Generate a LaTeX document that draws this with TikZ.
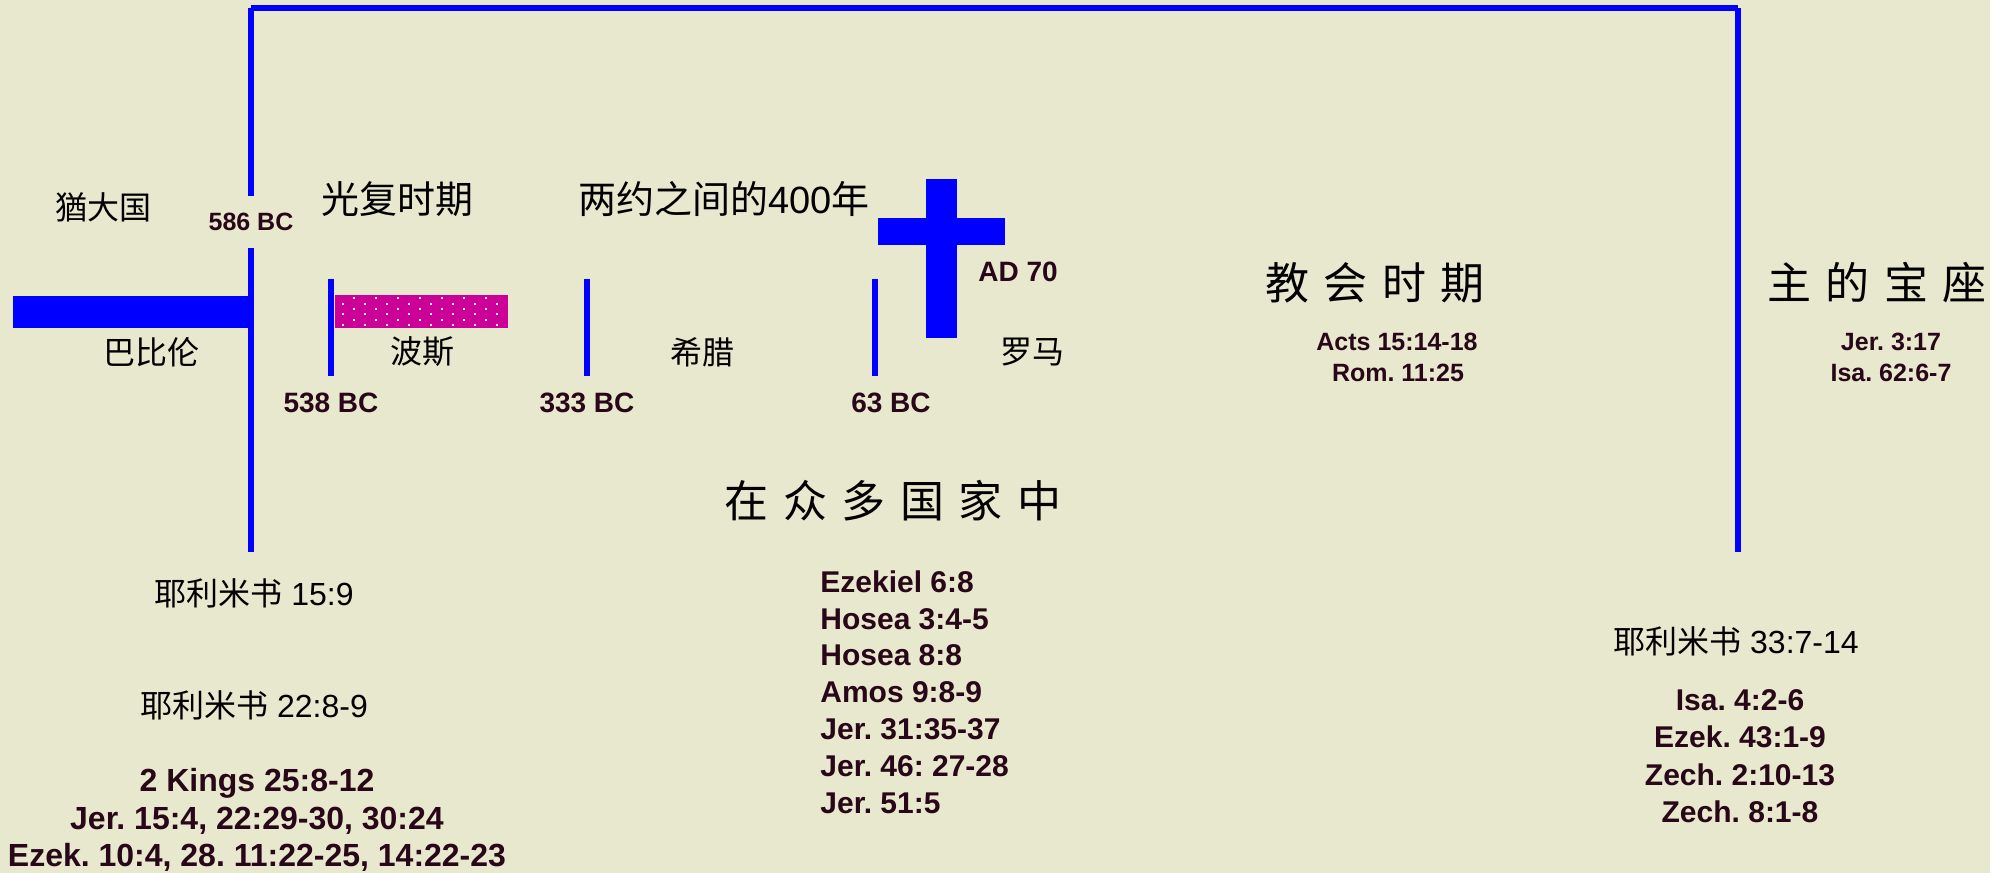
\documentclass[tikz,border=0pt]{standalone}
\usepackage{fontspec}
\setmainfont{Liberation Sans}
\newfontfamily\cjk{Noto Sans CJK SC}
\definecolor{bg}{RGB}{232,232,206}
\definecolor{refc}{RGB}{40,8,24}
\definecolor{persia}{RGB}{204,0,153}
\newcommand\cgap{\hspace{0.33em}}
\frenchspacing
\tikzset{
  txt/.style={inner sep=0pt, anchor=center, text=black},
  cn/.style={txt, font=\cjk\fontsize{#1}{#1}\selectfont},
  bc/.style={txt, text=refc, font=\bfseries\fontsize{#1}{#1}\selectfont},
  rg/.style={txt, font=\fontsize{#1}{#1}\selectfont},
  refl/.style={inner sep=0pt, anchor=west, text=refc, font=\bfseries\fontsize{15}{15}\selectfont},
  tick/.style={draw=blue, line width=3pt},
  bracket/.style={draw=blue, line width=3.2pt},
}
\begin{document}
\begin{tikzpicture}[x=0.5pt,y=-0.5pt]
\useasboundingbox (0,0) rectangle (2009,873);
\fill[white] (0,0) rectangle (2009,873);
\fill[bg] (0,0) rectangle (1990,873);

% top bracket
\coordinate (tl) at (251,8);
\coordinate (tr) at (1738,8);
\coordinate (lgap1) at (251,196);
\coordinate (lgap2) at (251,248);
\coordinate (lbot) at (251,552);
\coordinate (rbot) at (1738,552);
\draw[bracket] (251,8) -- (1738,8);
\draw[tick] (lgap1) -- (tl);
\draw[tick] (tr) -- (rbot);
\draw[tick] (lgap2) -- (lbot);

% Babylon bar
\fill[blue] (13,296) rectangle (251,328);

% Persia bar with dots
\fill[persia] (335,295) rectangle (508,328);
\foreach \j in {0,...,5}{
  \pgfmathsetmacro{\yy}{298.3+\j*5.33}
  \pgfmathsetmacro{\xs}{mod(\j,2)==0 ? 354 : 343.3}
  \foreach \i in {0,...,7}{
    \pgfmathsetmacro{\xx}{\xs+\i*22}
    \ifdim\xx pt<507pt
      \fill[white] (\xx-1,\yy-1) rectangle (\xx+1,\yy+1);
    \fi
  }
}

% ticks
\coordinate (t538a) at (331,279); \coordinate (t538b) at (331,376);
\coordinate (t333a) at (587,279); \coordinate (t333b) at (587,376);
\coordinate (t63a) at (875,279);  \coordinate (t63b) at (875,376);
\draw[tick] (t538a) -- (t538b);
\draw[tick] (t333a) -- (t333b);
\draw[tick] (t63a) -- (t63b);

% cross
\fill[blue] (926,179) rectangle (957,338);
\fill[blue] (878,218) rectangle (1005,245);

% labels top row
\node[cn=16] (juda) at (103,207) {猶大国};
\node[bc=12.5] (y586) at (251,222) {586 BC};
\node[cn=19] (restore) at (397,199) {光复时期};
\node[txt, font=\fontsize{19}{19}\selectfont] (inter) at (724,199) {{\cjk 两约之间的}400{\cjk 年}};
\node[bc=14] (ad70) at (1018,272) {AD 70};

% empires
\node[cn=16] (babylon) at (151,352) {巴比伦};
\node[cn=16] (persian) at (422,352) {波斯};
\node[cn=16] (greece) at (702,352) {希腊};
\node[cn=16] (rome) at (1032,352) {罗马};

\node[bc=14] (y538) at (331,403) {538 BC};
\node[bc=14] (y333) at (587,403) {333 BC};
\node[bc=14] (y63) at (891,403) {63 BC};

% church age
\node[cn=22] (church) at (1375,283) {教\cgap 会\cgap 时\cgap 期};
\node[bc=12.5] (acts) at (1397,342) {Acts 15:14-18};
\node[bc=12.5] (rom) at (1398,373) {Rom. 11:25};

% throne
\node[cn=22] (throne) at (1877,283) {主\cgap 的\cgap 宝\cgap 座};
\node[bc=12.5] (jer317) at (1891,342) {Jer. 3:17};
\node[bc=12.5] (isa62) at (1891,373) {Isa. 62:6-7};

% among nations
\node[cn=22] (nations) at (893,501) {在\cgap 众\cgap 多\cgap 国\cgap 家\cgap 中};
\node[refl] (r1) at (820,582) {Ezekiel 6:8};
\node[refl] (r2) at (820,619) {Hosea 3:4-5};
\node[refl] (r3) at (820,655) {Hosea 8:8};
\node[refl] (r4) at (820,692) {Amos 9:8-9};
\node[refl] (r5) at (820,729) {Jer. 31:35-37};
\node[refl] (r6) at (820,766) {Jer. 46: 27-28};
\node[refl] (r7) at (820,803) {Jer. 51:5};

% left bottom
\node[rg=16] (j159) at (254,593) {{\cjk 耶利米书} 15:9};
\node[rg=16] (j2289) at (254,705) {{\cjk 耶利米书} 22:8-9};
\node[bc=16] (k1) at (257,783) {2 Kings 25:8-12};
\node[bc=16] (k2) at (257,821) {Jer. 15:4, 22:29-30, 30:24};
\node[bc=16] (k3) at (257,857) {Ezek. 10:4, 28. 11:22-25, 14:22-23};

% right bottom
\node[rg=16] (j337) at (1736,641) {{\cjk 耶利米书} 33:7-14};
\node[bc=15] (s1) at (1740,700) {Isa. 4:2-6};
\node[bc=15] (s2) at (1740,737) {Ezek. 43:1-9};
\node[bc=15] (s3) at (1740,775) {Zech. 2:10-13};
\node[bc=15] (s4) at (1740,812) {Zech. 8:1-8};
\end{tikzpicture}
\end{document}
